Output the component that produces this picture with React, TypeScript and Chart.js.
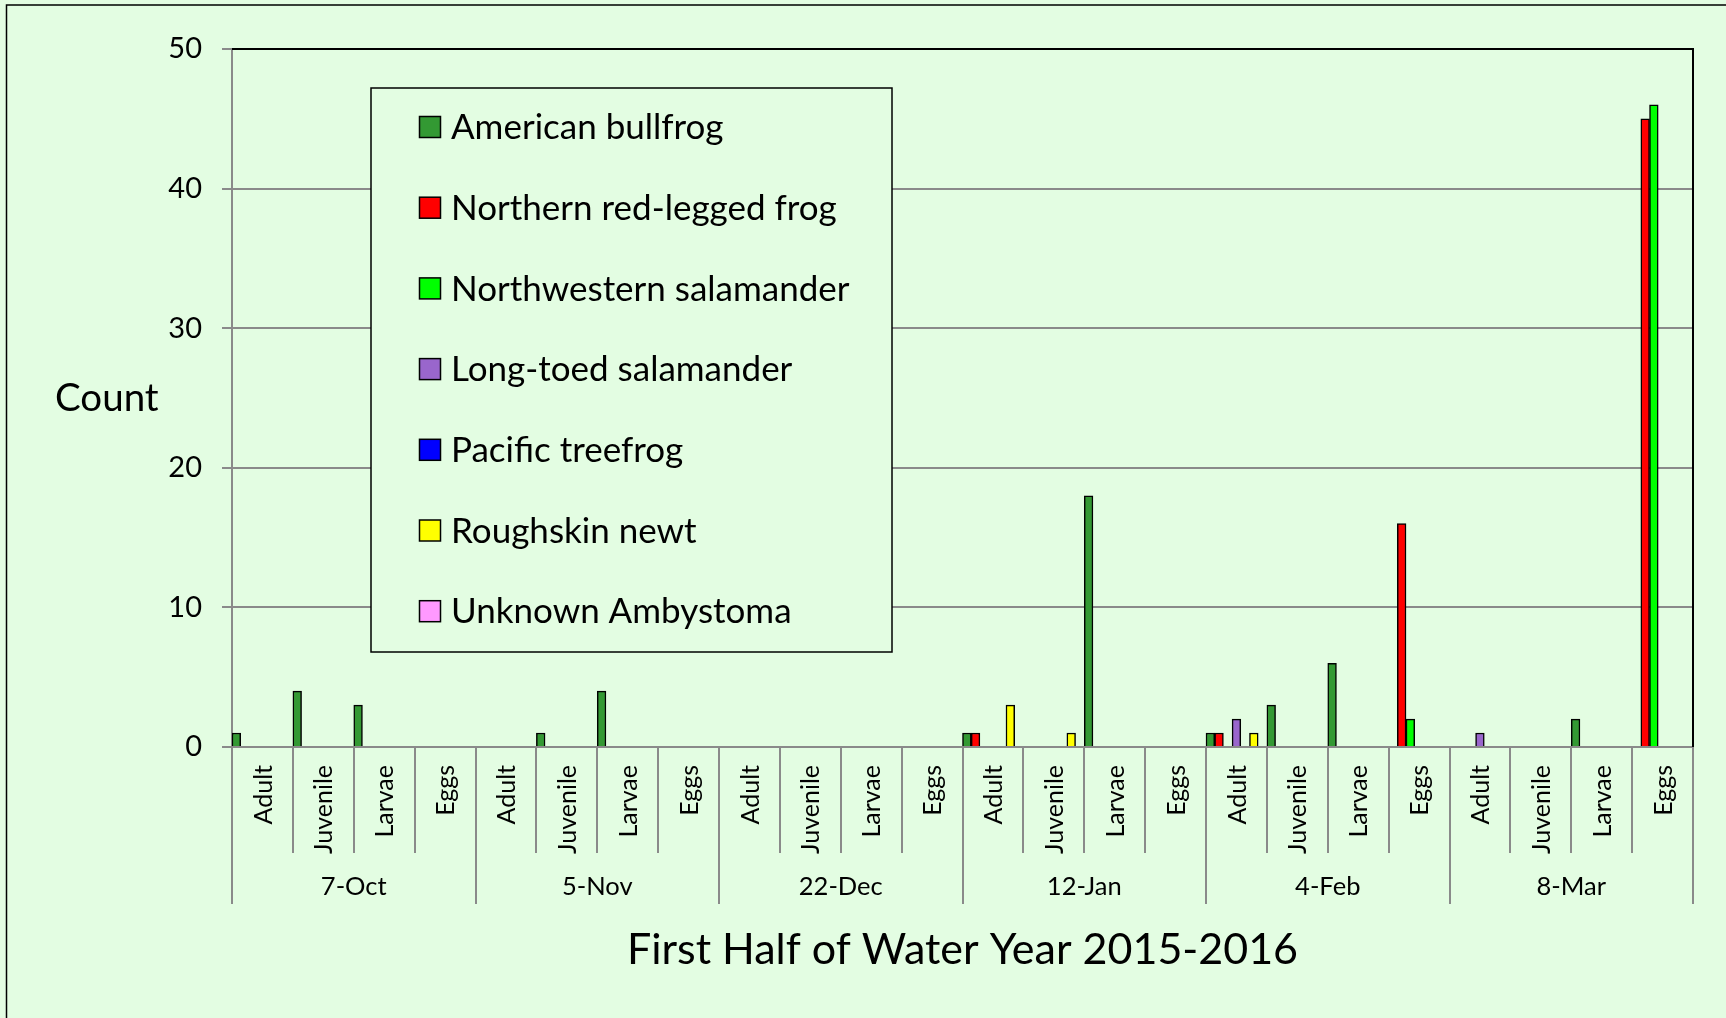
import React, { useEffect, useRef } from "react";
import { Chart, registerables } from "chart.js";

Chart.register(...registerables);

const dates = ["7-Oct", "5-Nov", "22-Dec", "12-Jan", "4-Feb", "8-Mar"];
const stages = ["Adult", "Juvenile", "Larvae", "Eggs"];

const seriesNames = [
  "American bullfrog",
  "Northern red-legged frog",
  "Northwestern salamander",
  "Long-toed salamander",
  "Pacific treefrog",
  "Roughskin newt",
  "Unknown Ambystoma",
];
const seriesColors = ["#339933", "#ff0000", "#00ff00", "#9966cc", "#0000ff", "#ffff00", "#ff99ff"];

// order: each date x [Adult, Juvenile, Larvae, Eggs]
const americanBullfrog = [1, 4, 3, 0, 0, 1, 4, 0, 0, 0, 0, 0, 1, 0, 18, 0, 1, 3, 6, 0, 0, 0, 2, 0];
const northernRedLeggedFrog = [0, 0, 0, 0, 0, 0, 0, 0, 0, 0, 0, 0, 1, 0, 0, 0, 1, 0, 0, 16, 0, 0, 0, 45];
const northwesternSalamander = [0, 0, 0, 0, 0, 0, 0, 0, 0, 0, 0, 0, 0, 0, 0, 0, 0, 0, 0, 2, 0, 0, 0, 46];
const longToedSalamander = [0, 0, 0, 0, 0, 0, 0, 0, 0, 0, 0, 0, 0, 0, 0, 0, 2, 0, 0, 0, 1, 0, 0, 0];
const pacificTreefrog = [0, 0, 0, 0, 0, 0, 0, 0, 0, 0, 0, 0, 0, 0, 0, 0, 0, 0, 0, 0, 0, 0, 0, 0];
const roughskinNewt = [0, 0, 0, 0, 0, 0, 0, 0, 0, 0, 0, 0, 3, 1, 0, 0, 1, 0, 0, 0, 0, 0, 0, 0];
const unknownAmbystoma = [0, 0, 0, 0, 0, 0, 0, 0, 0, 0, 0, 0, 0, 0, 0, 0, 0, 0, 0, 0, 0, 0, 0, 0];

const seriesData = [
  americanBullfrog,
  northernRedLeggedFrog,
  northwesternSalamander,
  longToedSalamander,
  pacificTreefrog,
  roughskinNewt,
  unknownAmbystoma,
];

const yMin = 0;
const yMax = 50;
const yStep = 10;

const yTitle = "Count";
const xTitle = "First Half of Water Year 2015-2016";

const FONT = "Lato";
const BG = "#e3fde2";
const GRID = "#8a8a8a";

const W = 1726;
const H = 1018;

const decorPlugin = {
  id: "decor",
  beforeDraw(chart: any) {
    const ctx = chart.ctx;
    ctx.save();
    ctx.fillStyle = BG;
    ctx.fillRect(0, 0, chart.width, chart.height);
    ctx.restore();
  },
  afterDraw(chart: any) {
    const ctx = chart.ctx;
    const area = chart.chartArea;
    const xs = chart.scales.x;
    const n = dates.length * stages.length;
    const cw = (area.right - area.left) / n;
    const axisY = area.bottom;

    ctx.save();
    // outer border (top + left)
    ctx.strokeStyle = "#000";
    ctx.lineWidth = 1.5;
    ctx.beginPath();
    ctx.moveTo(6.5, H + 10);
    ctx.lineTo(6.5, 5);
    ctx.lineTo(W + 10, 5);
    ctx.stroke();

    // plot area top & right border
    ctx.lineWidth = 2;
    ctx.beginPath();
    ctx.moveTo(area.left, area.top);
    ctx.lineTo(area.right, area.top);
    ctx.lineTo(area.right, area.bottom);
    ctx.stroke();

    // category separators
    ctx.strokeStyle = GRID;
    ctx.lineWidth = 2;
    for (let k = 0; k <= n; k++) {
      const x = Math.round(area.left + k * cw);
      const bottom = k % stages.length === 0 ? 904 : 853;
      ctx.beginPath();
      ctx.moveTo(x, axisY);
      ctx.lineTo(x, bottom);
      ctx.stroke();
    }

    // stage labels (rotated)
    ctx.fillStyle = "#000";
    ctx.font = `25px ${FONT}`;
    ctx.textAlign = "right";
    ctx.textBaseline = "middle";
    for (let i = 0; i < n; i++) {
      const x = xs.getPixelForValue(i);
      ctx.save();
      ctx.translate(x + 1, axisY + 18);
      ctx.rotate(-Math.PI / 2);
      ctx.fillText(stages[i % stages.length], 0, 0);
      ctx.restore();
    }

    // date labels
    ctx.font = `25.5px ${FONT}`;
    ctx.textAlign = "center";
    ctx.textBaseline = "middle";
    dates.forEach((d, g) => {
      const x = area.left + (g * stages.length + stages.length / 2) * cw;
      ctx.fillText(d, x, 887);
    });

    // x title
    ctx.font = `43px ${FONT}`;
    ctx.fillText(xTitle, (area.left + area.right) / 2, 950);

    // y title
    ctx.font = `38.5px ${FONT}`;
    ctx.textAlign = "left";
    ctx.fillText(yTitle, 55, 399);

    // legend box
    const lx = 371, ly = 88, lw = 521, lh = 564;
    ctx.fillStyle = BG;
    ctx.fillRect(lx, ly, lw, lh);
    ctx.strokeStyle = "#000";
    ctx.lineWidth = 1.5;
    ctx.strokeRect(lx, ly, lw, lh);
    ctx.font = `35px ${FONT}`;
    ctx.textAlign = "left";
    ctx.textBaseline = "middle";
    seriesNames.forEach((name, i) => {
      const cy = 127 + i * 80.7;
      ctx.fillStyle = seriesColors[i];
      ctx.fillRect(419.5, cy - 10.5, 21, 21);
      ctx.strokeStyle = "#000";
      ctx.lineWidth = 1.5;
      ctx.strokeRect(419.5, cy - 10.5, 21, 21);
      ctx.fillStyle = "#000";
      ctx.fillText(name, 451, cy + 1);
    });
    ctx.restore();
  },
};

export default function App() {
  const ref = useRef<HTMLCanvasElement>(null);
  useEffect(() => {
    if (!ref.current) return;
    const labels = dates.flatMap((d) => stages.map((s) => `${d} ${s}`));
    const chart = new Chart(ref.current, {
      type: "bar",
      data: {
        labels,
        datasets: seriesNames.map((name, i) => ({
          label: name,
          data: seriesData[i],
          backgroundColor: seriesColors[i],
          borderColor: "#000",
          borderWidth: 1.5,
          categoryPercentage: 1,
          barPercentage: 1,
        })),
      },
      options: {
        responsive: false,
        animation: false,
        layout: { padding: { left: 0, top: 49, right: 33, bottom: 0 } },
        plugins: { legend: { display: false }, tooltip: { enabled: false } },
        scales: {
          x: {
            grid: { display: true, drawOnChartArea: false, drawTicks: false },
            border: { display: true, color: GRID, width: 2 },
            ticks: { display: false },
            afterFit: (s: any) => {
              s.height = 271;
            },
          },
          y: {
            min: yMin,
            max: yMax,
            ticks: { stepSize: yStep, color: "#000", font: { family: FONT, size: 29 }, padding: 20 },
            grid: { color: GRID, lineWidth: 2, tickLength: 10 },
            border: { color: GRID, width: 2 },
            afterFit: (s: any) => {
              s.width = 232;
            },
          },
        },
      },
      plugins: [decorPlugin],
    });
    return () => chart.destroy();
  }, []);
  return (
    <div style={{ position: "absolute", left: 0, top: 0 }}>
      <canvas ref={ref} width={W} height={H} style={{ display: "block" }} />
    </div>
  );
}
